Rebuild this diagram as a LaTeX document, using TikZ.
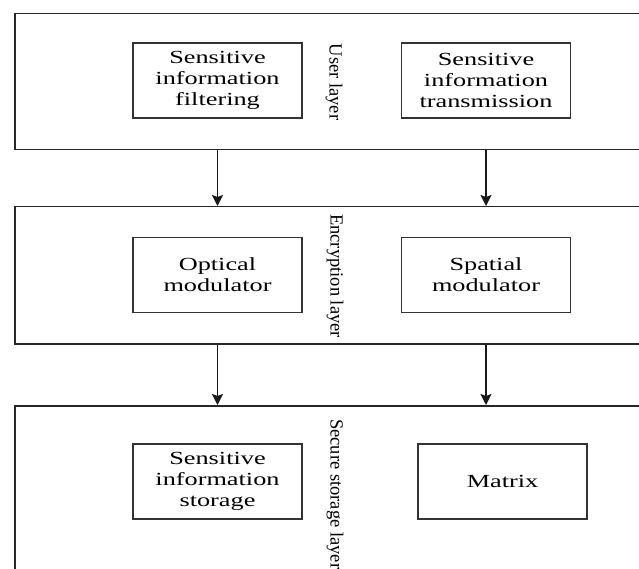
\documentclass[tikz,border=0pt]{standalone}
\usepackage{fontspec}
\setmainfont{Liberation Serif}
\newfontfamily\wfont[FakeStretch=1.42]{Liberation Serif}
\usetikzlibrary{arrows.meta}
\begin{document}
\begin{tikzpicture}[x=1pt,y=-1pt,
  layer/.style={draw=black!85, line width=1.5pt, anchor=north west, inner sep=0pt, minimum width=660pt},
  block/.style={draw=black!80, line width=1.4pt, minimum width=169pt, minimum height=75pt, inner sep=0pt, align=center, font=\wfont\fontsize{18.5}{21}\selectfont},
  lbl/.style={rotate=-90, inner sep=0pt, font=\fontsize{18.5}{21}\selectfont},
  arr/.style={draw=black!90, line width=1.5pt, -{Stealth[length=11pt,width=11pt,inset=2pt]}}]
\useasboundingbox (0,0) rectangle (639,569);
\fill[white] (0,0) rectangle (639,569);
\node[layer, minimum height=136pt] (L1) at (14,13) {};
\node[layer, minimum height=137pt] (L2) at (14,206) {};
\node[layer, minimum height=190pt] (L3) at (14,405) {};
\node[block] (A1) at (217.5,80.5) {Sensitive\\information\\filtering};
\node[block] (B1) at (486,80.5) {Sensitive\\information\\transmission};
\node[block] (A2) at (217.5,275) {Optical\\modulator};
\node[block] (B2) at (486,275) {Spatial\\modulator};
\node[block] (A3) at (217.5,481.5) {Sensitive\\information\\storage};
\node[block] (B3) at (502.5,481.5) {Matrix};
\node[lbl] (T1) at (334,82) {User layer};
\node[lbl] (T2) at (335,276) {Encryption layer};
\node[lbl, anchor=west] (T3) at (335,419) {Secure storage layer};
\draw[arr] (A1 |- L1.south) -- (A1 |- L2.north);
\draw[arr] (B1 |- L1.south) -- (B1 |- L2.north);
\draw[arr] (A1 |- L2.south) -- (A1 |- L3.north);
\draw[arr] (B1 |- L2.south) -- (B1 |- L3.north);
\end{tikzpicture}
\end{document}
